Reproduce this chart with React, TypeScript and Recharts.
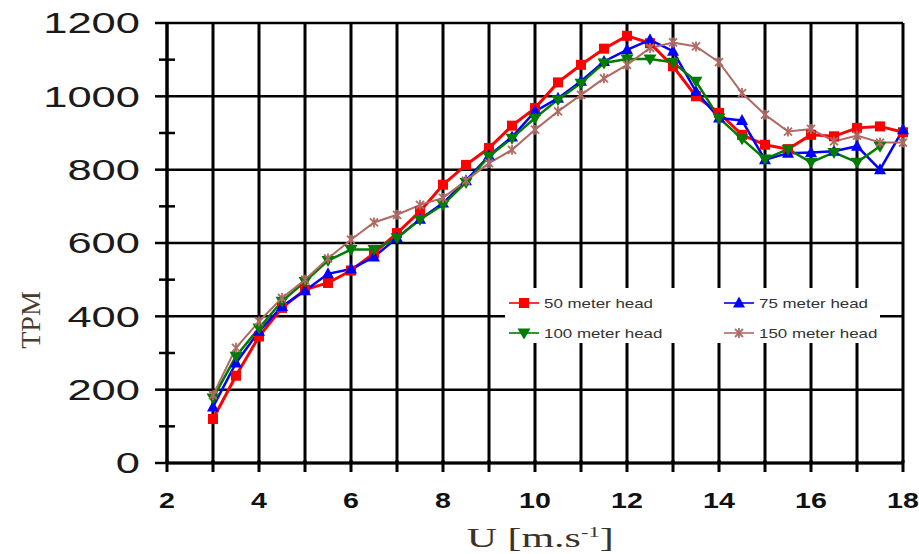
import { LineChart, Line, XAxis, YAxis, CartesianGrid, Legend } from 'recharts';

// wind speed U [m/s]
const windSpeed = [3, 3.5, 4, 4.5, 5, 5.5, 6, 6.5, 7, 7.5, 8, 8.5, 9, 9.5, 10, 10.5, 11, 11.5, 12, 12.5, 13, 13.5, 14, 14.5, 15, 15.5, 16, 16.5, 17, 17.5, 18];

const head50 = [120, 238, 345, 423, 473, 491, 525, 572, 627, 686, 759, 813, 859, 920, 968, 1038, 1086, 1130, 1165, 1145, 1082, 1000, 955, 895, 868, 856, 895, 891, 914, 918, 902];
const head75 = [153, 273, 359, 427, 470, 516, 529, 562, 614, 665, 709, 770, 838, 889, 959, 995, 1041, 1095, 1127, 1154, 1123, 1013, 941, 934, 827, 845, 847, 850, 864, 800, 909];
const head100 = [177, 291, 368, 441, 495, 552, 582, 582, 614, 664, 704, 765, 836, 886, 941, 991, 1036, 1091, 1102, 1102, 1093, 1041, 941, 884, 829, 856, 820, 847, 820, 864, null];
const head150 = [185, 314, 386, 450, 500, 558, 609, 656, 677, 704, 723, 770, 818, 854, 909, 959, 1004, 1049, 1086, 1132, 1147, 1136, 1093, 1009, 950, 904, 911, 877, 893, 874, 874];

const xTicks = [2, 3, 4, 5, 6, 7, 8, 9, 10, 11, 12, 13, 14, 15, 16, 17, 18];
const yTicks = [0, 100, 200, 300, 400, 500, 600, 700, 800, 900, 1000, 1100, 1200];
const yGrid = [0, 200, 400, 600, 800, 1000, 1200];

const series = [
    { key: 'h50', name: '50 meter head', color: '#ff0000', width: 3, marker: 'square' },
    { key: 'h75', name: '75 meter head', color: '#0000ff', width: 2.5, marker: 'triangle' },
    { key: 'h100', name: '100 meter head', color: '#007c00', width: 2.5, marker: 'down' },
    { key: 'h150', name: '150 meter head', color: '#b06a64', width: 2, marker: 'star' },
];

const data = windSpeed.map((u, i) => ({
    u,
    h50: head50[i],
    h75: head75[i],
    h100: head100[i],
    h150: head150[i],
}));

function Marker({ kind, cx, cy, color }: { kind: string; cx: number; cy: number; color: string }) {
    if (kind === 'square') {
        return <rect x={cx - 5} y={cy - 5} width={10} height={10} fill={color} />;
    }
    if (kind === 'triangle') {
        return <polygon points={`${cx},${cy - 6.5} ${cx + 6},${cy + 4.5} ${cx - 6},${cy + 4.5}`} fill={color} />;
    }
    if (kind === 'down') {
        return <polygon points={`${cx - 6.5},${cy - 4.5} ${cx + 6.5},${cy - 4.5} ${cx},${cy + 6.5}`} fill={color} />;
    }
    return (
        <g stroke={color} strokeWidth={1.8}>
            <line x1={cx - 4} y1={cy - 4} x2={cx + 4} y2={cy + 4} />
            <line x1={cx - 4} y1={cy + 4} x2={cx + 4} y2={cy - 4} />
            <line x1={cx} y1={cy - 5} x2={cx} y2={cy + 5} />
        </g>
    );
}

const YTick = (props: any) => {
    const { x, y, payload } = props;
    const major = payload.value % 200 === 0;
    return (
        <g>
            <line x1={x - (major ? 12 : 8)} x2={x + (major ? 0 : 8)} y1={y} y2={y} stroke="#000" strokeWidth={2.5} />
            {major && (
                <text
                    transform={`translate(${x - 27},${y}) scale(1.45,1)`}
                    textAnchor="end"
                    dominantBaseline="central"
                    fontSize={30}
                    fontFamily="'Liberation Sans', Arial, sans-serif"
                    fill="#1a1a1a"
                >
                    {payload.value}
                </text>
            )}
        </g>
    );
};

const XTick = (props: any) => {
    const { x, y, payload } = props;
    return (
        <g>
            <line x1={x} x2={x} y1={y - 3} y2={y + 9} stroke="#000" strokeWidth={3} />
            {payload.value % 2 === 0 && (
                <text
                    transform={`translate(${x},${y + 45}) scale(1.3,1)`}
                    textAnchor="middle"
                    fontSize={22}
                    fontWeight="bold"
                    fontFamily="'Liberation Sans', Arial, sans-serif"
                    fill="#111"
                >
                    {payload.value}
                </text>
            )}
        </g>
    );
};

const XLabel = (props: any) => {
    const { viewBox } = props;
    return (
        <text
            transform={`translate(${viewBox.x + viewBox.width * 0.507},${viewBox.y + 84}) scale(1.5,1)`}
            textAnchor="middle"
            fontSize={28}
            fontFamily="'Liberation Serif', 'Times New Roman', serif"
            fill="#3a3228"
        >
            <tspan>U [m.s</tspan>
            <tspan dy={-10} fontSize={15}>-1</tspan>
            <tspan dy={10}>]</tspan>
        </text>
    );
};

const YLabel = (props: any) => {
    const { viewBox } = props;
    const cx = viewBox.x + 30;
    const cy = viewBox.y + viewBox.height * 0.675;
    return (
        <text
            transform={`translate(${cx},${cy}) rotate(-90)`}
            textAnchor="middle"
            dominantBaseline="central"
            fontSize={28}
            fontFamily="'Liberation Serif', 'Times New Roman', serif"
            fill="#4a3c2c"
        >
            TPM
        </text>
    );
};

const LegendBox = () => (
    <div
        style={{
            background: '#fff',
            width: 375,
            height: 55,
            position: 'relative',
            fontFamily: "'Liberation Sans', Arial, sans-serif",
            fontSize: 13,
            color: '#333',
        }}
    >
        {series.map((s, i) => (
            <div
                key={s.key}
                style={{
                    position: 'absolute',
                    left: i % 2 ? 218 : 3,
                    top: i < 2 ? 7 : 37,
                    display: 'flex',
                    alignItems: 'center',
                    whiteSpace: 'nowrap',
                }}
            >
                <svg width={32} height={16}>
                    <line x1={1} x2={31} y1={8} y2={8} stroke={s.color} strokeWidth={2} opacity={0.8} />
                    <Marker kind={s.marker} cx={16} cy={8} color={s.color} />
                </svg>
                <span style={{ display: 'inline-block', marginLeft: 4, transform: 'scaleX(1.3)', transformOrigin: 'left center' }}>
                    {s.name}
                </span>
            </div>
        ))}
    </div>
);

export default function App() {
    return (
        <div style={{ width: 919, height: 554, background: '#fff' }}>
            <style>{'body { margin: 0; }'}</style>
            <LineChart width={919} height={554} data={data} margin={{ top: 23, right: 16, left: 0, bottom: 0 }}>
                <CartesianGrid vertical={false} horizontalValues={yGrid} stroke="#000" strokeWidth={2.5} />
                <CartesianGrid horizontal={false} verticalValues={xTicks} stroke="#000" strokeWidth={3} />
                <XAxis
                    dataKey="u"
                    type="number"
                    domain={[2, 18]}
                    ticks={xTicks}
                    interval={0}
                    height={91}
                    tickSize={0}
                    tickMargin={0}
                    tickLine={false}
                    tick={<XTick />}
                    axisLine={{ stroke: '#000', strokeWidth: 3 }}
                    label={<XLabel />}
                />
                <YAxis
                    type="number"
                    domain={[0, 1200]}
                    ticks={yTicks}
                    interval={0}
                    width={167}
                    tickSize={0}
                    tickMargin={0}
                    tickLine={false}
                    tick={<YTick />}
                    axisLine={{ stroke: '#000', strokeWidth: 3 }}
                    label={<YLabel />}
                />
                <Legend
                    layout="vertical"
                    align="center"
                    verticalAlign="middle"
                    content={<LegendBox />}
                    wrapperStyle={{ position: 'absolute', left: 505, top: 288, width: 375, height: 55 }}
                />
                {series.map((s) => (
                    <Line
                        key={s.key}
                        dataKey={s.key}
                        name={s.name}
                        stroke={s.color}
                        strokeWidth={s.width}
                        isAnimationActive={false}
                        connectNulls={false}
                        dot={(p: any) =>
                            p.cx == null || p.cy == null || p.value == null ? (
                                <g key={p.index} />
                            ) : (
                                <Marker key={p.index} kind={s.marker} cx={p.cx} cy={p.cy} color={s.color} />
                            )
                        }
                    />
                ))}
            </LineChart>
        </div>
    );
}
